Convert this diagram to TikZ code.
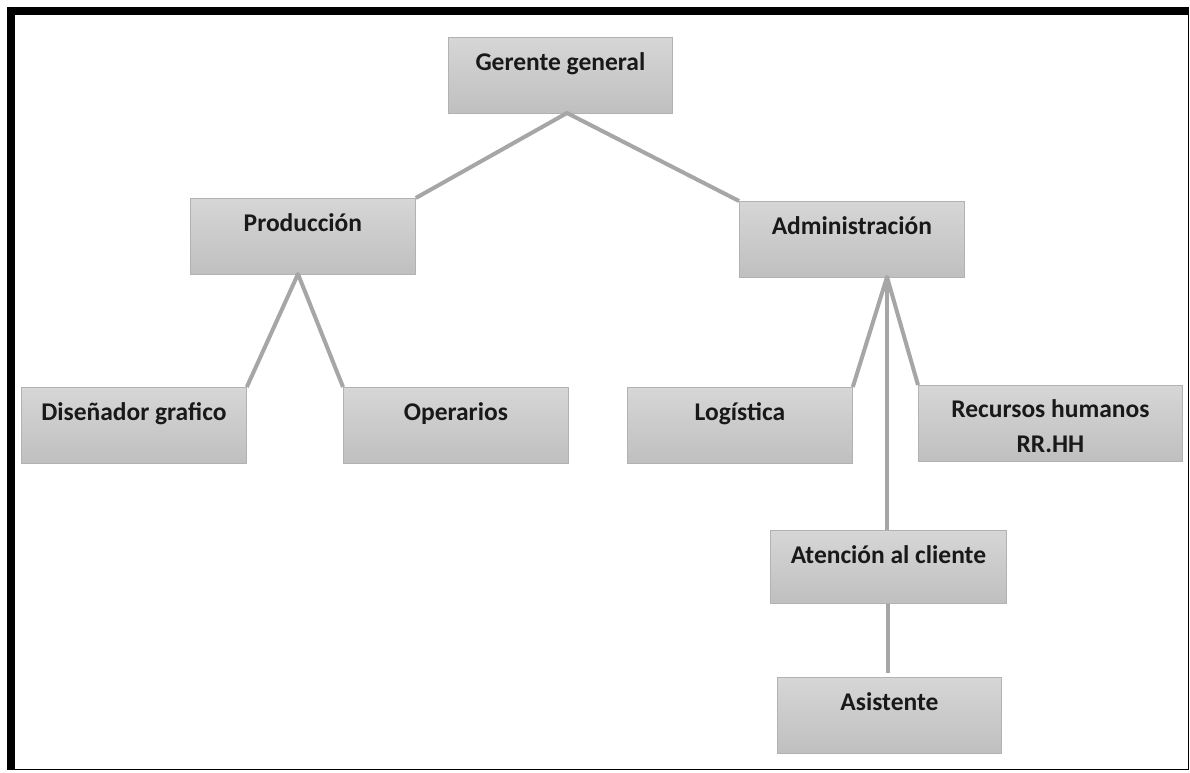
\documentclass[tikz,border=0pt]{standalone}
\usepackage{fontspec}
\setmainfont{Carlito}
\begin{document}
\begin{tikzpicture}[x=1pt,y=-1pt,
  orgbox/.style={draw=black!30, line width=0.8pt, top color=black!16, bottom color=black!25,
    rectangle, inner sep=0pt, anchor=north west},
  orgtext/.style={font=\bfseries\fontsize{25.5}{35}\selectfont, text=black!90, align=center, anchor=north, inner sep=0pt},
  link/.style={draw=black!35, line width=4pt, line join=round}]
  \useasboundingbox (0,0) rectangle (1190,772);
  % outer frame
  \fill[black] (7,7) rectangle (1189,770);
  \fill[white] (15,15) rectangle (1187.5,768.5);

  % boxes
  \node[orgbox, minimum width=224pt, minimum height=76pt] (ger) at (448,37) {};
  \node[orgbox, minimum width=225pt, minimum height=76pt] (pro) at (190,198) {};
  \node[orgbox, minimum width=225pt, minimum height=76pt] (adm) at (739,201) {};
  \node[orgbox, minimum width=225pt, minimum height=76pt] (dis) at (21,387) {};
  \node[orgbox, minimum width=225pt, minimum height=76pt] (ope) at (343,387) {};
  \node[orgbox, minimum width=225pt, minimum height=76pt] (log) at (627,387) {};
  \node[orgbox, minimum width=264pt, minimum height=76pt] (rrhh) at (918,385) {};
  \node[orgbox, minimum width=236pt, minimum height=73pt] (ate) at (770,530) {};
  \node[orgbox, minimum width=224pt, minimum height=76pt] (asi) at (777,677) {};

  % labels
  \node[orgtext] (tger) at ([yshift=-15pt]ger.north) {Gerente general};
  \node[orgtext] (tpro) at ([yshift=-15pt]pro.north) {Producción};
  \node[orgtext] (tadm) at ([yshift=-15pt]adm.north) {Administración};
  \node[orgtext] (tdis) at ([yshift=-15pt]dis.north) {Diseñador grafico};
  \node[orgtext] (tope) at ([yshift=-15pt]ope.north) {Operarios};
  \node[orgtext] (tlog) at ([yshift=-15pt]log.north) {Logística};
  \node[orgtext] (trrhh) at ([yshift=-14pt]rrhh.north) {Recursos humanos\\RR.HH};
  \node[orgtext] (tate) at ([yshift=-15pt]ate.north) {Atención al cliente};
  \node[orgtext] (tasi) at ([yshift=-15pt]asi.north) {Asistente};

  % junction points under each parent
  \coordinate (gj) at (567,113);
  \coordinate (pj) at (298,274);
  \coordinate (aj) at (887,277);
  \coordinate (asj) at (888,673);

  % connectors
  \draw[link] (pro.north east) -- (gj) -- (adm.north west);
  \draw[link] (dis.north east) -- (pj) -- (ope.north west);
  \draw[link] (log.north east) -- (aj) -- (rrhh.north west);
  \draw[link] (aj) -- (aj |- ate.north);
  \draw[link] (asj |- ate.south) -- (asj);
\end{tikzpicture}
\end{document}
